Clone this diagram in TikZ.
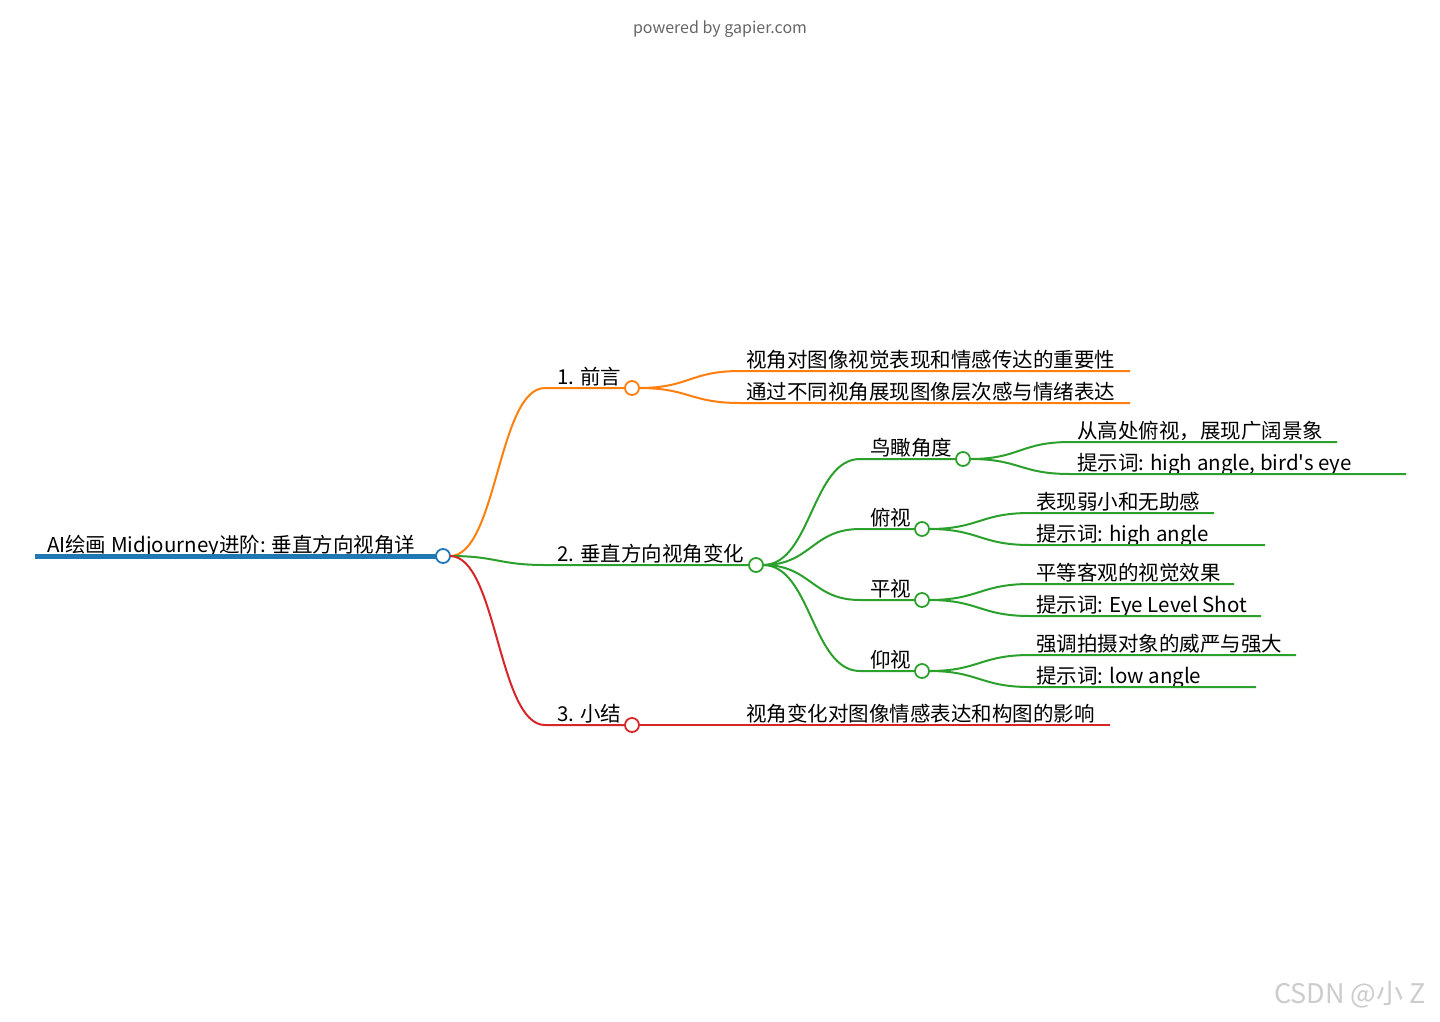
\documentclass[tikz,border=0pt]{standalone}
\usepackage{fontspec}
\setmainfont{Noto Sans CJK SC}[Ligatures=TeXOff]
\usetikzlibrary{positioning}
\definecolor{mmblue}{HTML}{1F77B4}
\definecolor{mmorange}{HTML}{FF7F0E}
\definecolor{mmgreen}{HTML}{2CA02C}
\definecolor{mmred}{HTML}{D62728}

\begin{document}
\begin{tikzpicture}[x=1pt,y=-1pt,
  every node/.style={font=\fontsize{20.5}{24}\selectfont,inner sep=0pt,outer sep=0pt},
  dot/.style={draw,circle,fill=white,line width=1.8pt,minimum size=14pt},
  mid/.style={anchor=south west,inner xsep=11pt,inner ysep=3.5pt,text depth=0pt},
  leaf/.style={anchor=south west,inner xsep=6pt,inner ysep=3.5pt,text depth=0pt},
  link/.style={line width=2pt}]
  \fill[white] (0,0) rectangle (1440,1021);
  \useasboundingbox (0,0) rectangle (1440,1021);

  \node[font=\fontsize{16}{20}\selectfont,text=black!60] (credit) at (720,29) {powered by gapier.com};
  \node[font=\fontsize{27}{32}\selectfont,text=black!20] (mark) at (1350,995) {CSDN @小 Z};

  % root
  \node[dot,draw=mmblue] (root) at (443,556) {};
  \node[mid,inner xsep=12pt] (rootlbl) at (35,556) {AI绘画 Midjourney进阶: 垂直方向视角详};
  \draw[mmblue,line width=5pt] (rootlbl.south west) -- (root.west);

  % 1. 前言
  \node[dot,draw=mmorange] (b1) at (632,388) {};
  \node[mid,inner xsep=12pt] (b1lbl) at (545,388) {1. 前言};
  \draw[mmorange,link] (root.east) .. controls +(47,0) and +(-47,0) .. (b1lbl.south west) -- (b1.west);
  \node[leaf] (l1a) at (740,371) {视角对图像视觉表现和情感传达的重要性};
  \node[leaf] (l1b) at (740,403) {通过不同视角展现图像层次感与情绪表达};
  \coordinate (e1a) at (1130,371);
  \coordinate (e1b) at (1130,403);
  \draw[mmorange,link] (b1.east) .. controls +(50,0) and +(-50,0) .. (l1a.south west) -- (e1a);
  \draw[mmorange,link] (b1.east) .. controls +(50,0) and +(-50,0) .. (l1b.south west) -- (e1b);

  % 2. 垂直方向视角变化
  \node[dot,draw=mmgreen] (b2) at (756,565) {};
  \node[mid,inner xsep=12pt] (b2lbl) at (545,565) {2. 垂直方向视角变化};
  \draw[mmgreen,link] (root.east) .. controls +(47,0) and +(-47,0) .. (b2lbl.south west) -- (b2.west);

  \node[dot,draw=mmgreen] (s1) at (963,459) {};
  \node[mid,inner xsep=10pt] (s1lbl) at (860,459) {鸟瞰角度};
  \node[dot,draw=mmgreen] (s2) at (922,529) {};
  \node[mid,inner xsep=10pt] (s2lbl) at (860,529) {俯视};
  \node[dot,draw=mmgreen] (s3) at (922,600) {};
  \node[mid,inner xsep=10pt] (s3lbl) at (860,600) {平视};
  \node[dot,draw=mmgreen] (s4) at (922,671) {};
  \node[mid,inner xsep=10pt] (s4lbl) at (860,671) {仰视};
  \draw[mmgreen,link] (b2.east) .. controls +(48,0) and +(-48,0) .. (s1lbl.south west) -- (s1.west);
  \draw[mmgreen,link] (b2.east) .. controls +(48,0) and +(-48,0) .. (s2lbl.south west) -- (s2.west);
  \draw[mmgreen,link] (b2.east) .. controls +(48,0) and +(-48,0) .. (s3lbl.south west) -- (s3.west);
  \draw[mmgreen,link] (b2.east) .. controls +(48,0) and +(-48,0) .. (s4lbl.south west) -- (s4.west);

  \node[leaf,inner xsep=7pt] (l2a) at (1070,442) {从高处俯视，展现广阔景象};
  \node[leaf,inner xsep=7pt] (l2b) at (1070,474) {提示词: high angle, bird's eye};
  \node[leaf] (l2c) at (1030,513) {表现弱小和无助感};
  \node[leaf] (l2d) at (1030,545) {提示词: high angle};
  \node[leaf] (l2e) at (1030,584) {平等客观的视觉效果};
  \node[leaf] (l2f) at (1030,616) {提示词: Eye Level Shot};
  \node[leaf] (l2g) at (1030,655) {强调拍摄对象的威严与强大};
  \node[leaf] (l2h) at (1030,687) {提示词: low angle};
  \coordinate (e2a) at (1337,442);
  \coordinate (e2b) at (1406,474);
  \coordinate (e2c) at (1214,513);
  \coordinate (e2d) at (1265,545);
  \coordinate (e2e) at (1234,584);
  \coordinate (e2f) at (1261,616);
  \coordinate (e2g) at (1296,655);
  \coordinate (e2h) at (1256,687);
  \draw[mmgreen,link] (s1.east) .. controls +(50,0) and +(-50,0) .. (l2a.south west) -- (e2a);
  \draw[mmgreen,link] (s1.east) .. controls +(50,0) and +(-50,0) .. (l2b.south west) -- (e2b);
  \draw[mmgreen,link] (s2.east) .. controls +(50,0) and +(-50,0) .. (l2c.south west) -- (e2c);
  \draw[mmgreen,link] (s2.east) .. controls +(50,0) and +(-50,0) .. (l2d.south west) -- (e2d);
  \draw[mmgreen,link] (s3.east) .. controls +(50,0) and +(-50,0) .. (l2e.south west) -- (e2e);
  \draw[mmgreen,link] (s3.east) .. controls +(50,0) and +(-50,0) .. (l2f.south west) -- (e2f);
  \draw[mmgreen,link] (s4.east) .. controls +(50,0) and +(-50,0) .. (l2g.south west) -- (e2g);
  \draw[mmgreen,link] (s4.east) .. controls +(50,0) and +(-50,0) .. (l2h.south west) -- (e2h);

  % 3. 小结
  \node[dot,draw=mmred] (b3) at (632,725) {};
  \node[mid,inner xsep=12pt] (b3lbl) at (545,725) {3. 小结};
  \draw[mmred,link] (root.east) .. controls +(47,0) and +(-47,0) .. (b3lbl.south west) -- (b3.west);
  \node[leaf] (l3a) at (740,725) {视角变化对图像情感表达和构图的影响};
  \coordinate (e3a) at (1110,725);
  \draw[mmred,link] (b3.east) .. controls +(50,0) and +(-50,0) .. (l3a.south west) -- (e3a);
\end{tikzpicture}
\end{document}
